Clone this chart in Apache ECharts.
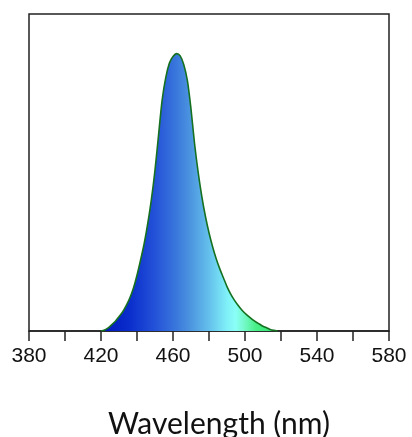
<!DOCTYPE html>
<html>
<head>
<meta charset="utf-8">
<script src="https://cdn.jsdelivr.net/npm/echarts@6/dist/echarts.min.js"></script>
<style>html,body{margin:0;padding:0;background:#fff}#c{width:412px;height:437px}</style>
</head>
<body>
<div id="c"></div>
<script>
var wavelengths = [420,422,424,426,428,430,432,434,436,438,440,442,444,446,448,450,452,454,456,458,460,462,464,466,468,470,472,474,476,478,480,482,484,486,488,490,492,494,496,498,500,502,504,506,508,510,512,514,516,518];
var intensity = [0,0.003,0.010,0.020,0.031,0.045,0.060,0.080,0.104,0.135,0.176,0.224,0.276,0.340,0.415,0.508,0.620,0.730,0.800,0.845,0.866,0.875,0.868,0.840,0.790,0.700,0.590,0.500,0.425,0.362,0.310,0.266,0.228,0.196,0.168,0.140,0.117,0.098,0.082,0.068,0.056,0.046,0.037,0.029,0.022,0.015,0.010,0.005,0.002,0];
var xTickLabels = [380,420,460,500,540,580];
var gradientStops = [[420,'#0016bc'],[436,'#0a2ecc'],[450,'#2452d8'],[462,'#3a78dc'],[470,'#4d96e0'],[480,'#64c0ec'],[490,'#80f0f8'],[495,'#8afff6'],[500,'#72f8c4'],[506,'#48f088'],[518,'#30e070']];

var data = wavelengths.map(function(w,i){return [w, intensity[i]];});
var wMin = wavelengths[0], wMax = wavelengths[wavelengths.length-1];
var stops = gradientStops.map(function(s){return {offset:(s[0]-wMin)/(wMax-wMin), color:s[1]};});

var chart = echarts.init(document.getElementById('c'), null, {renderer:'canvas'});
chart.setOption({
  animation:false,
  grid:{left:29,right:23,top:14,bottom:106,show:true,borderColor:'#222',borderWidth:1.5,backgroundColor:'transparent'},
  xAxis:{
    type:'value',min:380,max:580,interval:20,
    axisLine:{show:true,lineStyle:{color:'#222',width:1.5}},
    axisTick:{show:true,inside:false,length:10,lineStyle:{color:'#222',width:1.5}},
    splitLine:{show:false},
    axisLabel:{
      margin:15,color:'#111',fontFamily:'Liberation Sans',fontSize:21,
      formatter:function(v){return xTickLabels.indexOf(v)>=0?String(v):'';}
    }
  },
  yAxis:{type:'value',min:0,max:1,show:false,splitLine:{show:false}},
  graphic:[{type:'text',left:108,top:409,style:{text:'Wavelength (nm)',font:'30px Lato',fill:'#111'}}],
  series:[{
    type:'line',data:data,smooth:0.3,showSymbol:false,
    lineStyle:{color:'#157020',width:1.6},
    areaStyle:{opacity:1,color:new echarts.graphic.LinearGradient(0,0,1,0,stops)}
  }]
});
</script>
</body>
</html>
